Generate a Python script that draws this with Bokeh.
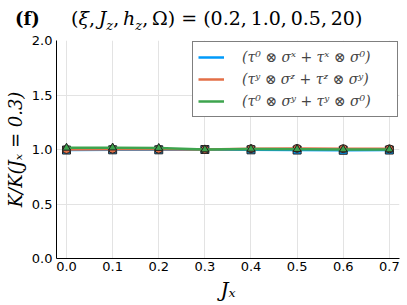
from bokeh.plotting import figure
from bokeh.layouts import column
from bokeh.models import Div, Legend, LegendItem, FixedTicker, Range1d, CustomJSTickFormatter
from bokeh.embed import file_html
from bokeh.resources import INLINE

# ---- data ----
jx = [0.0, 0.1, 0.2, 0.3, 0.4, 0.5, 0.6, 0.7]
k_blue = [0.995, 0.997, 0.997, 1.0, 0.997, 0.995, 0.993, 0.995]
k_orange = [1.0, 1.003, 1.003, 1.0, 1.007, 1.01, 1.008, 1.006]
k_green = [1.015, 1.017, 1.013, 1.0, 1.005, 1.003, 1.0, 1.0]
series_labels = ["(τ⁰ ⊗ σˣ + τˣ ⊗ σ⁰)", "(τʸ ⊗ σᶻ + τᶻ ⊗ σʸ)", "(τ⁰ ⊗ σʸ + τʸ ⊗ σ⁰)"]
x_ticks = [0.0, 0.1, 0.2, 0.3, 0.4, 0.5, 0.6, 0.7]
y_ticks = [0.0, 0.5, 1.0, 1.5, 2.0]
params = ["0.2", "1.0", "0.5", "20"]

colors = ["#009AFA", "#E36F47", "#3EA44E"]
markers = ["square", "circle", "triangle"]
series = [k_blue, k_orange, k_green]

SERIF = "DejaVu Serif"
HDR_H = 32
THIN = "\u2009"

# ---- header (panel title) as real HTML text ----
title_html = (
    '<span style="display:inline-block;width:56px;font-weight:bold;font-size:18px">(f)</span>'
    '(<i>ξ</i>,' + THIN + '<i>J</i><sub style="font-size:13px"><i>z</i></sub>,' + THIN +
    '<i>h</i><sub style="font-size:13px"><i>z</i></sub>,' + THIN + 'Ω) = ('
    + ("," + THIN).join(params) + ')'
)
hdr = Div(text=title_html, width=407, height=HDR_H, margin=(0, 0, 0, 0),
          styles={"font-family": SERIF, "font-size": "19px", "color": "black",
                  "padding-left": "15px", "padding-top": "6px", "line-height": "24px",
                  "white-space": "nowrap", "box-sizing": "border-box"})

# ---- main plot ----
p = figure(width=407, height=305 - HDR_H, output_backend="svg", toolbar_location=None,
           x_range=Range1d(-0.0217, 0.722), y_range=Range1d(0.0, 2.0),
           min_border_left=56, min_border_right=8, min_border_top=8, min_border_bottom=47)
p.title.visible = False
p.outline_line_color = None
p.background_fill_color = "white"

items = []
for ys, c, m, lab in zip(series, colors, markers, series_labels):
    r = p.line(jx, ys, line_color=c, line_width=2.5)
    p.scatter(jx, ys, marker=m, size=8, fill_color=c, line_color="#222222", line_width=1)
    items.append(LegendItem(label=lab, renderers=[r]))

leg = Legend(items=items, location="top_right")
leg.border_line_color = "black"
leg.border_line_width = 1
leg.label_text_font = SERIF
leg.label_text_font_style = "italic"
leg.label_text_font_size = "14px"
leg.glyph_width = 26
leg.glyph_height = 20
leg.label_height = 20
leg.label_width = 150
leg.label_standoff = 18
leg.spacing = 2
leg.padding = 5
leg.margin = 1
leg.background_fill_alpha = 1.0
p.add_layout(leg)

for ax in (p.xaxis, p.yaxis):
    ax.major_label_text_font = "DejaVu Sans"
    ax.major_label_text_font_size = "13px"
    ax.major_label_text_color = "black"
    ax.axis_line_color = "black"
    ax.major_tick_out = 0
    ax.major_tick_in = 0
    ax.minor_tick_line_color = None
    ax.major_tick_line_color = None
    ax.axis_label_text_font = SERIF
    ax.axis_label_text_font_style = "italic"
    ax.axis_label_text_color = "black"

p.xaxis.axis_label_text_font_size = "20px"
p.yaxis.axis_label_text_font_size = "18px"
p.xaxis.ticker = FixedTicker(ticks=x_ticks)
p.yaxis.ticker = FixedTicker(ticks=y_ticks)
p.xaxis.formatter = CustomJSTickFormatter(code="return tick.toFixed(1)")
p.yaxis.formatter = CustomJSTickFormatter(code="return tick.toFixed(1)")
p.xaxis.axis_label = "Jₓ"
p.yaxis.axis_label = "K/K(Jₓ = 0.3)"
p.xaxis.major_label_standoff = 3
p.xaxis.axis_label_standoff = 4
p.yaxis.major_label_standoff = 4
p.yaxis.axis_label_standoff = 3

p.xgrid.grid_line_color = "#e3e3e3"
p.ygrid.grid_line_color = "#e3e3e3"
p.xgrid.grid_line_width = 1
p.ygrid.grid_line_width = 1

page = column(hdr, p, spacing=0)
open("out.html", "w").write(file_html(page, INLINE))
